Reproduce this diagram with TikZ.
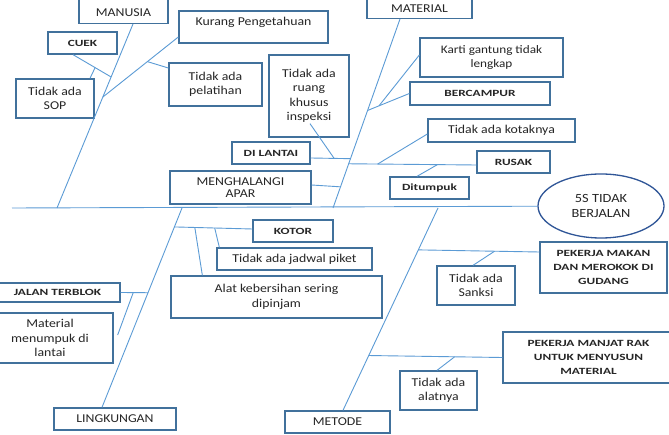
\documentclass[tikz,border=0pt]{standalone}
\usepackage{fontspec}
\setmainfont{Carlito}[FakeStretch=1.15]
\newfontfamily\capsfont{Carlito}[FakeStretch=1.4]
\usetikzlibrary{calc,shapes.geometric}
\definecolor{bonecol}{HTML}{5B9BD5}
\definecolor{framecol}{HTML}{41719C}
\definecolor{goalcol}{HTML}{2F5597}
\definecolor{ink}{HTML}{262626}
\tikzset{bone/.style={draw=bonecol,line width=0.9pt},
  cause/.style={draw=framecol,line width=1.3pt,fill=white,text=ink,align=center,inner sep=0pt,font=\fontsize{12}{14.5}\selectfont},
  tag/.style={cause,font=\capsfont\bfseries\fontsize{9.5}{14}\selectfont},
  sz/.style 2 args={minimum width=#1pt,minimum height=#2pt}}
\begin{document}
\begin{tikzpicture}[x=1pt,y=-1pt]
    \useasboundingbox(0,0)rectangle(669,435);\clip(0,0)rectangle(669,435);
    \fill[white](0,0)rectangle(669,435);
    \node[cause,anchor=south,minimum width=89pt,text height=24pt,text depth=6.5pt](manusia)at(123.5,24){MANUSIA};
    \node[cause,sz={149}{32},text height=14.7pt,text depth=17.3pt](kurang)at(253.5,27){Kurang Pengetahuan};
    \node[tag,sz={69}{22}](cuek)at(82.5,43){CUEK};
    \node[cause,sz={78}{39}](sop)at(55,98.5){Tidak ada\\SOP};
    \node[cause,sz={93}{43}](pelatihan)at(215.5,84.5){Tidak ada\\pelatihan};
    \node[cause,sz={80}{82}](ruang)at(309,96){Tidak ada\\ruang\\khusus\\inspeksi};
    \node[tag,sz={78}{22}](dilantai)at(271,153){DI LANTAI};
    \node[cause,sz={141}{33},font=\fontsize{12}{12.5}\selectfont](apar)at(240.5,187.5){MENGHALANGI\\APAR};
    \node[cause,anchor=south,minimum width=105pt,text height=24pt,text depth=6.3pt](material)at(419.5,19){MATERIAL};
    \node[cause,sz={143}{39},font=\fontsize{11.5}{14}\selectfont](karti)at(491.5,57.5){Karti gantung tidak\\lengkap};
    \node[tag,sz={140}{23}](bercampur)at(480,93.5){BERCAMPUR};
    \node[cause,sz={147}{23}](kotak)at(501.5,130.5){Tidak ada kotaknya};
    \node[tag,sz={73}{22}](rusak)at(513.5,162){RUSAK};
    \node[tag,sz={79}{22}](ditumpuk)at(429.5,188){Ditumpuk};
    \node[cause,ellipse,draw=goalcol,sz={126}{64},font=\fontsize{12.5}{15}\selectfont](goal)at(601,206){5S TIDAK\\BERJALAN};
    \node[tag,sz={80}{22}](kotor)at(293,231){KOTOR};
    \node[cause,sz={155}{22}](jadwal)at(294.5,259){Tidak ada jadwal piket};
    \node[cause,sz={211}{42}](alat)at(276.5,297){Alat kebersihan sering\\dipinjam};
    \node[tag,sz={125}{19}](jalan)at(57.5,292.5){JALAN TERBLOK};
    \node[cause,sz={126}{50}](menumpuk)at(50,338){Material\\menumpuk di\\lantai};
    \node[cause,sz={122}{22}](lingkungan)at(115,419){LINGKUNGAN};
    \node[cause,sz={105}{22}](metode)at(337.5,422){METODE};
    \node[tag,sz={127}{51}](makan)at(603.5,267.5){PEKERJA MAKAN\\DAN MEROKOK DI\\GUDANG};
    \node[cause,sz={78}{39}](sanksi)at(476,285.5){Tidak ada\\Sanksi};
    \node[tag,sz={171}{51}](manjat)at(588.5,357.5){PEKERJA MANJAT RAK\\UNTUK MENYUSUN\\MATERIAL};
    \node[cause,sz={77}{39}](alatnya)at(438.5,390.5){Tidak ada\\alatnya};
    \coordinate(tail)at(12,208);\coordinate(fm)at(57,208);\coordinate(fa)at(333,208);
    \coordinate(fl)at(182,208);\coordinate(fe)at(438,208);
    \draw[bone](tail)--(goal);
    \draw[bone]([xshift=9.5pt]manusia.south)coordinate(mtop)--(fm);
    \coordinate(mk)at($(mtop)!0.397!(fm)$);\coordinate(mc)at($(mtop)!0.288!(fm)$);
    \draw[bone]([yshift=-10pt]kurang.west)coordinate(kfoot)--(mk);
    \draw[bone]([yshift=16.5pt]pelatihan.west)--($(kfoot)!0.41!(mk)$);
    \draw[bone]([xshift=-9.5pt]cuek.south)coordinate(cfoot)--(mc);
    \draw[bone]([xshift=35pt]sop.north)--($(cfoot)!0.58!(mc)$);
    \draw[bone]([xshift=-19.5pt]material.south)coordinate(atop)--(fa);
    \coordinate(ab)at($(atop)!0.484!(fa)$);
    \draw[bone](bercampur.west)coordinate(bfoot)--(ab);
    \draw[bone]([yshift=2.5pt]karti.west)--($(bfoot)!0.726!(ab)$);
    \draw[bone]([yshift=-5pt]dilantai.east)coordinate(dfoot)--($(atop)!0.739!(fa)$)coordinate(dend);
    \draw[bone]($(atop)!0.766!(fa)$)coordinate(rstart)--([yshift=-3pt]rusak.west)coordinate(rfoot);
    \draw[bone]([yshift=-3.5pt]kotak.west)--($(rstart)!0.227!(rfoot)$);
    \draw[bone]([xshift=-12.5pt]ditumpuk.north)--($(rstart)!0.695!(rfoot)$);
    \draw[bone]([xshift=1pt,yshift=14pt]ruang.south)--($(dfoot)!0.59!(dend)$);
    \draw[bone]([yshift=2.5pt]apar.east)--($(atop)!0.888!(fa)$);
    \draw[bone](fl)--([xshift=-13pt]lingkungan.north)coordinate(lbot);
    \coordinate(lk)at($(fl)!0.095!(lbot)$);
    \draw[bone](lk)--([yshift=2pt]kotor.west)coordinate(kend);
    \draw[bone]($(lk)!0.517!(kend)$)--([xshift=3pt]jadwal.north west);
    \draw[bone]($(lk)!0.262!(kend)$)--([xshift=32pt]alat.north west);
    \draw[bone](jalan.east)coordinate(jfoot)--($(fl)!0.425!(lbot)$)coordinate(jend);
    \draw[bone]([xshift=4pt,yshift=3pt]menumpuk.east)--($(jfoot)!0.46!(jend)$);
    \draw[bone](fe)--([xshift=5.5pt]metode.north)coordinate(ebot);
    \draw[bone]($(fe)!0.207!(ebot)$)coordinate(ms)--([yshift=15.5pt]makan.west)coordinate(mend);
    \draw[bone]([xshift=-3pt]sanksi.north)--($(ms)!0.63!(mend)$);
    \draw[bone]($(fe)!0.729!(ebot)$)coordinate(js)--(manjat.west)coordinate(jnd);
    \draw[bone]([xshift=-1.5pt]alatnya.north)--($(js)!0.643!(jnd)$);
  \end{tikzpicture}
\end{document}
